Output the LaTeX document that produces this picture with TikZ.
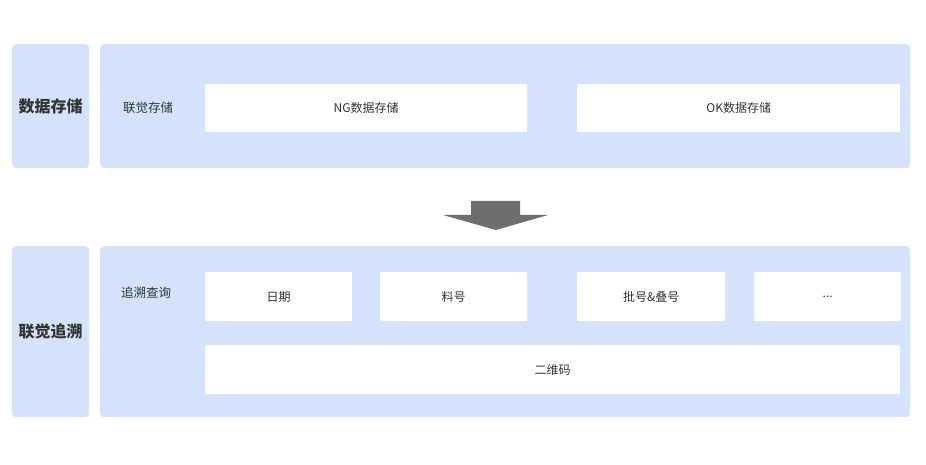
\documentclass[tikz,border=0pt]{standalone}
\usepackage{fontspec}
\setmainfont{Noto Sans CJK SC}
\usepackage{xcolor}
\usepackage{tikz}
\definecolor{panelblue}{HTML}{D4E2FC}
\definecolor{textgray}{HTML}{333333}
\definecolor{arrowgray}{HTML}{6E6E6E}
\tikzstyle{panel} = [fill=panelblue,rounded corners=4pt,anchor=north west,inner sep=0pt]
\tikzstyle{cell}  = [fill=white,rounded corners=1pt,anchor=north west,inner sep=0pt,
                     text=textgray,font=\fontsize{12}{14}\selectfont]

\begin{document}
\begin{tikzpicture}[
    x=1pt, y=-1pt,
    sidetitle/.style={text=textgray,font=\fontsize{16}{18}\selectfont\bfseries},
    paneltitle/.style={text=textgray,font=\fontsize{12.5}{14}\selectfont},
  ]
  \useasboundingbox (0,0) rectangle (926,465);
  % top block
  \node[panel,minimum width=77pt,minimum height=124pt] (storeside) at (12,44) {};
  \node[sidetitle] (storetitle) at (storeside.center) {数据存储};
  \node[panel,minimum width=810pt,minimum height=124pt] (storemain) at (100,44) {};
  \node[paneltitle] (storelabel) at (148,108) {联觉存储};
  \node[cell,minimum width=322pt,minimum height=48pt] (ngstore) at (205,84) {NG数据存储};
  \node[cell,minimum width=323pt,minimum height=48pt] (okstore) at (577,84) {OK数据存储};
  % block arrow
  \coordinate (shaftl) at (471,201);
  \coordinate (shaftr) at (520,201);
  \coordinate (tip) at (496,230);
  \fill[arrowgray] (shaftl) -- (shaftr) -- (520,215) -- (548,215) -- (tip)
    -- (443,215) -- (471,215) -- cycle;
  % bottom block
  \node[panel,minimum width=77pt,minimum height=171pt] (traceside) at (12,246) {};
  \node[sidetitle] (tracetitle) at (traceside.center) {联觉追溯};
  \node[panel,minimum width=810pt,minimum height=171pt] (tracemain) at (100,246) {};
  \node[paneltitle] (tracelabel) at (146,293) {追溯查询};
  \node[cell,minimum width=147pt,minimum height=49pt] (date) at (205,272) {日期};
  \node[cell,minimum width=147pt,minimum height=49pt] (partno) at (380,272) {料号};
  \node[cell,minimum width=148pt,minimum height=49pt] (batchno) at (577,272) {批号\&叠号};
  \node[cell,minimum width=147pt,minimum height=49pt] (more) at (754,272) {...};
  \node[cell,minimum width=695pt,minimum height=49pt] (qrcode) at (205,345) {二维码};
\end{tikzpicture}
\end{document}
